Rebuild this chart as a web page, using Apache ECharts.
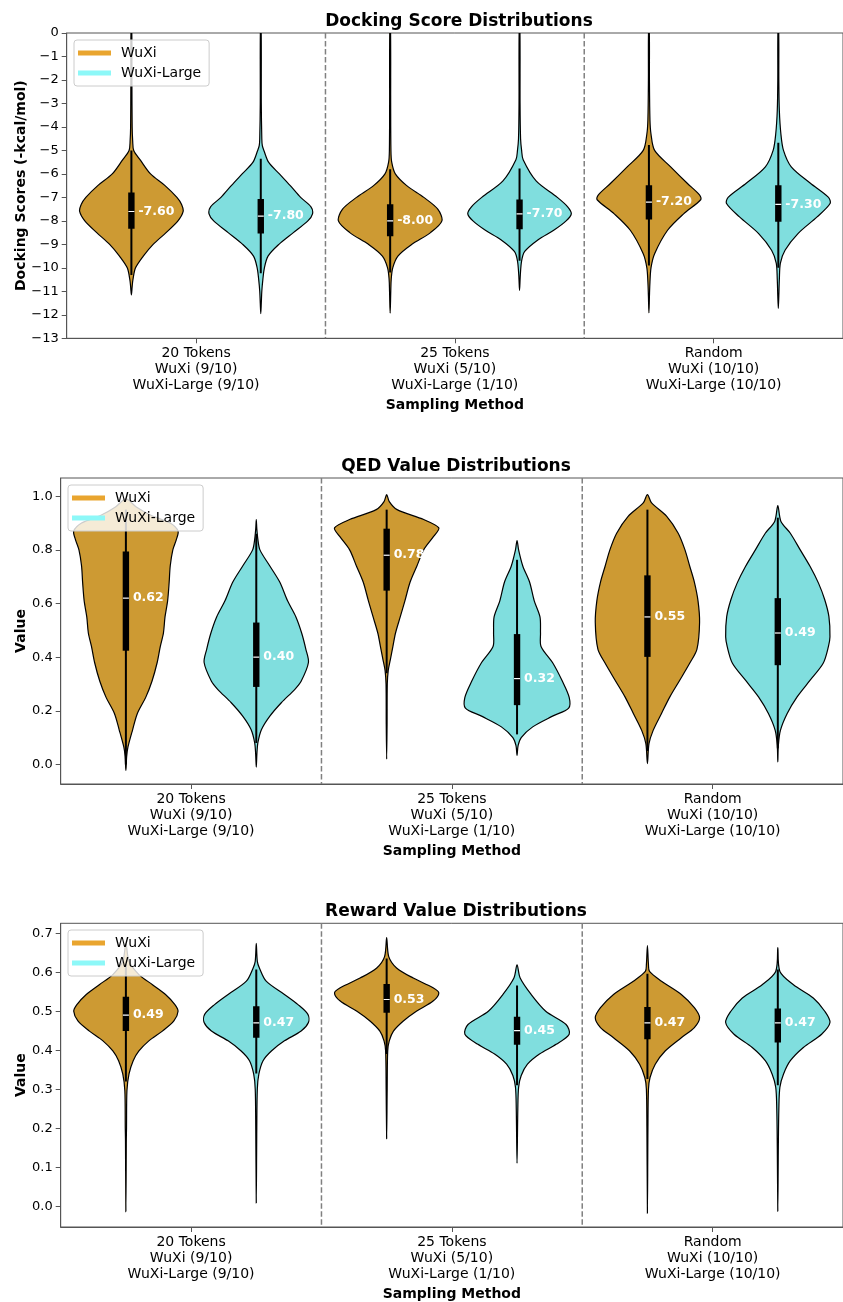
<!DOCTYPE html>
<html><head><meta charset="utf-8">
<script src="https://cdn.jsdelivr.net/npm/echarts@6/dist/echarts.min.js"></script>
<style>html,body{margin:0;padding:0;background:#fff}#c{width:843px;height:1302px}</style>
</head><body><div id="c"></div>
<script>
// ---------------- DATA ----------------
const categories = [
  '20 Tokens\nWuXi (9/10)\nWuXi-Large (9/10)',
  '25 Tokens\nWuXi (5/10)\nWuXi-Large (1/10)',
  'Random\nWuXi (10/10)\nWuXi-Large (10/10)'
];
const models = ['WuXi', 'WuXi-Large'];
const panelTitles = ['Docking Score Distributions', 'QED Value Distributions', 'Reward Value Distributions'];
const yAxisNames = ['Docking Scores (-kcal/mol)', 'Value', 'Value'];
const dockTicks = [-13,-12,-11,-10,-9,-8,-7,-6,-5,-4,-3,-2,-1,0];
const qedTicks = [0, 0.2, 0.4, 0.6, 0.8, 1.0];
const rewardTicks = [0, 0.1, 0.2, 0.3, 0.4, 0.5, 0.6, 0.7];

// violin density profiles: [value, relative half-width]
const dockWuXi20 = [[0,0.008],[-2,0.01],[-4,0.015],[-4.6,0.025],[-5.0,0.045],[-5.4,0.17],[-6.0,0.37],[-6.5,0.65],[-7.0,0.88],[-7.3,0.97],[-7.6,1.0],[-8.0,0.9],[-8.5,0.67],[-9.0,0.42],[-9.5,0.23],[-10.0,0.08],[-10.5,0.03],[-10.8,0.015],[-11.15,0]];
const dockWuXi25 = [[0,0.008],[-3,0.01],[-5,0.015],[-5.5,0.03],[-6.0,0.1],[-6.5,0.32],[-7.0,0.65],[-7.5,0.92],[-8.0,1.0],[-8.5,0.78],[-9.0,0.42],[-9.5,0.15],[-10.0,0.05],[-10.5,0.02],[-11.0,0.012],[-11.93,0]];
const dockWuXiRand = [[0,0.008],[-2,0.01],[-3.7,0.02],[-4.3,0.04],[-5.0,0.11],[-5.7,0.42],[-6.4,0.74],[-6.9,0.98],[-7.1,1.0],[-7.7,0.67],[-8.4,0.36],[-9.4,0.11],[-10.0,0.04],[-10.6,0.02],[-11.2,0.01],[-11.92,0]];
const dockLarge20 = [[0,0.008],[-3,0.01],[-4.5,0.02],[-4.8,0.03],[-5.0,0.06],[-5.5,0.15],[-6.0,0.36],[-6.5,0.57],[-7.0,0.77],[-7.4,0.97],[-7.7,1.0],[-8.0,0.91],[-8.5,0.63],[-9.0,0.35],[-9.5,0.14],[-10.0,0.07],[-10.5,0.04],[-11.0,0.02],[-11.5,0.01],[-11.95,0]];
const dockLarge25 = [[0,0.008],[-3,0.01],[-4.5,0.02],[-5.0,0.04],[-5.4,0.07],[-6.3,0.32],[-7.0,0.73],[-7.4,0.93],[-7.7,1.0],[-8.0,0.9],[-8.4,0.66],[-8.8,0.36],[-9.3,0.1],[-9.7,0.04],[-10.3,0.015],[-10.96,0]];
const dockLargeRand = [[0,0.008],[-2,0.01],[-3.3,0.02],[-4.3,0.05],[-5.0,0.1],[-5.7,0.25],[-6.4,0.62],[-7.0,0.97],[-7.26,1.0],[-7.83,0.75],[-8.54,0.38],[-9.25,0.13],[-9.8,0.04],[-10.5,0.02],[-11.2,0.01],[-11.73,0]];

const qedWuXi20 = [[0.99,0],[0.96,0.2],[0.93,0.47],[0.90,0.85],[0.87,1.0],[0.84,0.97],[0.80,0.9],[0.74,0.85],[0.68,0.83],[0.61,0.8],[0.55,0.75],[0.49,0.72],[0.44,0.66],[0.38,0.6],[0.31,0.5],[0.25,0.38],[0.19,0.22],[0.13,0.13],[0.065,0.04],[0.03,0.015],[-0.022,0]];
const qedWuXi25 = [[1.006,0],[0.98,0.05],[0.95,0.2],[0.913,0.71],[0.882,1.0],[0.85,0.9],[0.80,0.71],[0.74,0.58],[0.68,0.45],[0.61,0.35],[0.55,0.26],[0.49,0.17],[0.44,0.12],[0.39,0.07],[0.35,0.03],[0.30,0.012],[0.15,0.008],[0.02,0]];
const qedWuXiRand = [[1.006,0],[0.975,0.08],[0.925,0.37],[0.862,0.59],[0.80,0.72],[0.74,0.81],[0.68,0.9],[0.61,0.97],[0.53,1.0],[0.43,0.95],[0.377,0.81],[0.314,0.62],[0.252,0.43],[0.19,0.27],[0.127,0.11],[0.077,0.03],[0.003,0]];
const qedLarge20 = [[0.913,0],[0.88,0.01],[0.84,0.03],[0.80,0.07],[0.74,0.26],[0.68,0.45],[0.61,0.6],[0.55,0.76],[0.49,0.87],[0.43,0.95],[0.38,1.0],[0.31,0.86],[0.28,0.74],[0.23,0.48],[0.18,0.26],[0.13,0.1],[0.08,0.03],[0.04,0.012],[-0.01,0]];
const qedLarge25 = [[0.835,0],[0.80,0.03],[0.74,0.11],[0.68,0.24],[0.61,0.33],[0.55,0.44],[0.49,0.45],[0.44,0.46],[0.38,0.68],[0.31,0.87],[0.25,1.0],[0.21,0.99],[0.18,0.68],[0.14,0.3],[0.10,0.08],[0.07,0.02],[0.034,0]];
const qedLargeRand = [[0.965,0],[0.906,0.06],[0.862,0.24],[0.80,0.43],[0.738,0.62],[0.676,0.78],[0.614,0.9],[0.551,0.98],[0.476,1.0],[0.439,0.97],[0.377,0.87],[0.314,0.62],[0.252,0.37],[0.19,0.18],[0.127,0.05],[0.07,0.01],[0.009,0]];

const rewWuXi20 = [[0.674,0],[0.628,0.06],[0.594,0.25],[0.568,0.51],[0.543,0.76],[0.517,0.94],[0.50,1.0],[0.475,0.92],[0.449,0.7],[0.424,0.44],[0.398,0.25],[0.373,0.14],[0.339,0.06],[0.296,0.02],[0.2,0.012],[0.17,0.008],[-0.014,0]];
const rewWuXi25 = [[0.689,0],[0.64,0.04],[0.611,0.19],[0.585,0.51],[0.56,0.89],[0.547,1.0],[0.526,0.89],[0.50,0.57],[0.475,0.32],[0.449,0.13],[0.424,0.05],[0.398,0.02],[0.3,0.01],[0.173,0]];
const rewWuXiRand = [[0.668,0],[0.62,0.02],[0.602,0.04],[0.577,0.27],[0.543,0.65],[0.509,0.9],[0.483,1.0],[0.458,0.9],[0.432,0.65],[0.398,0.34],[0.364,0.15],[0.33,0.05],[0.3,0.02],[0.2,0.01],[-0.018,0]];
const rewLarge20 = [[0.674,0],[0.628,0.02],[0.611,0.06],[0.577,0.19],[0.543,0.54],[0.517,0.8],[0.492,0.99],[0.471,1.0],[0.449,0.86],[0.424,0.54],[0.398,0.29],[0.373,0.13],[0.339,0.05],[0.3,0.02],[0.2,0.01],[0.008,0]];
const rewLarge25 = [[0.619,0],[0.585,0.06],[0.543,0.27],[0.50,0.55],[0.466,0.94],[0.441,1.0],[0.415,0.75],[0.39,0.43],[0.364,0.2],[0.335,0.08],[0.305,0.03],[0.25,0.015],[0.11,0]];
const rewLargeRand = [[0.663,0],[0.602,0.04],[0.568,0.3],[0.534,0.68],[0.50,0.9],[0.471,1.0],[0.441,0.84],[0.407,0.49],[0.373,0.24],[0.339,0.11],[0.305,0.04],[0.25,0.02],[0.15,0.01],[-0.013,0]];

// inner box stats per category: [lower whisker, Q1, median, Q3, upper whisker]
const dockWuXiBox  = [[-10.3,-8.33,-7.60,-6.79,-5.0],[-10.2,-8.65,-8.00,-7.29,-5.8],[-9.9,-7.94,-7.20,-6.48,-4.77]];
const dockLargeBox = [[-10.23,-8.54,-7.80,-7.07,-5.35],[-9.7,-8.36,-7.70,-7.09,-5.77],[-10.0,-8.04,-7.30,-6.48,-4.67]];
const qedWuXiBox   = [[0.0,0.424,0.62,0.794,0.95],[0.34,0.648,0.78,0.879,0.95],[0.05,0.401,0.55,0.705,0.95]];
const qedLargeBox  = [[0.08,0.289,0.40,0.529,0.86],[0.112,0.221,0.32,0.486,0.763],[0.06,0.37,0.49,0.62,0.92]];
const rewWuXiBox   = [[0.32,0.449,0.49,0.537,0.62],[0.39,0.496,0.53,0.570,0.635],[0.326,0.428,0.47,0.511,0.596]];
const rewLargeBox  = [[0.34,0.432,0.47,0.513,0.607],[0.31,0.414,0.45,0.486,0.566],[0.31,0.42,0.47,0.507,0.607]];

// ---------------- STYLE ----------------
const FONT = 'DejaVu Sans';
const fillColors = {'WuXi': '#CD9A33', 'WuXi-Large': '#80DEDE'};
const legendColors = {'WuXi': '#E9A52F', 'WuXi-Large': '#8DF8F8'};
const offsets = {'WuXi': -0.25, 'WuXi-Large': 0.25};
const axisColor = '#555';

const panels = [
  {grid: {left: 66.7, top: 33, width: 785.3, height: 305.3}, ymin: -13, ymax: 0, ticks: dockTicks,
   fmt: v => v < 0 ? '\u2212' + Math.abs(v) : '0', nameGap: 38, titleX: 459, titleY: 13, legend: [74, 40],
   prof: {'WuXi': [dockWuXi20, dockWuXi25, dockWuXiRand], 'WuXi-Large': [dockLarge20, dockLarge25, dockLargeRand]},
   box: {'WuXi': dockWuXiBox, 'WuXi-Large': dockLargeBox}},
  {grid: {left: 60.7, top: 478, width: 791.3, height: 306}, ymin: -0.073, ymax: 1.068, ticks: qedTicks,
   fmt: v => v.toFixed(1), nameGap: 32, titleX: 456, titleY: 458, legend: [68, 485],
   prof: {'WuXi': [qedWuXi20, qedWuXi25, qedWuXiRand], 'WuXi-Large': [qedLarge20, qedLarge25, qedLargeRand]},
   box: {'WuXi': qedWuXiBox, 'WuXi-Large': qedLargeBox}},
  {grid: {left: 60.7, top: 923.3, width: 791.3, height: 305.7}, ymin: -0.0535, ymax: 0.7255, ticks: rewardTicks,
   fmt: v => v.toFixed(1), nameGap: 32, titleX: 456, titleY: 903, legend: [68, 930],
   prof: {'WuXi': [rewWuXi20, rewWuXi25, rewWuXiRand], 'WuXi-Large': [rewLarge20, rewLarge25, rewLargeRand]},
   box: {'WuXi': rewWuXiBox, 'WuXi-Large': rewLargeBox}}
];

function violinSeries(k, name) {
  const P = panels[k];
  const profiles = P.prof[name], boxes = P.box[name], off = offsets[name], fill = fillColors[name];
  return {
    type: 'custom', name, xAxisIndex: k, yAxisIndex: k, clip: true, silent: true, z: 3,
    itemStyle: {color: legendColors[name]},
    data: [0, 1, 2].map(i => [i, boxes[i][2]]),
    encode: {x: 0, y: 1},
    renderItem: (params, api) => {
      const i = api.value(0);
      const band = api.size([1, 0])[0];
      const cx = api.coord([i, boxes[i][2]])[0] + off * band;
      const hm = 0.2 * band;
      const Y = v => api.coord([i, v])[1];
      const prof = profiles[i];
      const right = prof.map(p => [cx + p[1] * hm, Y(p[0])]);
      const left = [];
      for (let j = prof.length - 1; j >= 0; j--) {
        if ((j === 0 || j === prof.length - 1) && prof[j][1] === 0) continue;
        left.push([cx - prof[j][1] * hm, Y(prof[j][0])]);
      }
      const b = boxes[i];
      return {type: 'group', children: [
        {type: 'polygon', shape: {points: right.concat(left), smooth: 0.3},
         style: {fill: fill, stroke: '#000', lineWidth: 1.2}},
        {type: 'line', shape: {x1: cx, y1: Y(b[0]), x2: cx, y2: Y(b[4])},
         style: {stroke: '#000', lineWidth: 2}},
        {type: 'rect', shape: {x: cx - 3.2, y: Y(b[3]), width: 6.4, height: Y(b[1]) - Y(b[3])},
         style: {fill: '#000'}},
        {type: 'line', shape: {x1: cx - 3, y1: Y(b[2]), x2: cx + 3, y2: Y(b[2])},
         style: {stroke: '#fff', lineWidth: 1.2}},
        {type: 'text', x: cx + 7, y: Y(b[2]),
         style: {text: b[2].toFixed(2), fill: '#fff', font: 'bold 12.5px "' + FONT + '"', verticalAlign: 'middle', align: 'left'}}
      ]};
    }
  };
}

function dividerSeries(k) {
  const P = panels[k];
  return {
    type: 'custom', xAxisIndex: k, yAxisIndex: k, silent: true, z: 1,
    data: [[0, P.ymax], [1, P.ymax]], encode: {x: 0, y: 1},
    renderItem: (params, api) => {
      const i = api.value(0);
      const band = api.size([1, 0])[0];
      const x = api.coord([i, P.ymax])[0] + band / 2;
      const cs = params.coordSys;
      return {type: 'line', shape: {x1: x, y1: cs.y, x2: x, y2: cs.y + cs.height},
              style: {stroke: '#808080', lineWidth: 1.5, lineDash: [5.5, 2.5]}};
    }
  };
}

const option = {
  animation: false,
  backgroundColor: '#fff',
  textStyle: {fontFamily: FONT},
  title: panels.map((P, k) => ({
    text: panelTitles[k], left: P.titleX, top: P.titleY, textAlign: 'center', padding: 0,
    textStyle: {fontSize: 17, fontWeight: 'bold', color: '#000', fontFamily: FONT}
  })),
  legend: panels.map(P => ({
    left: P.legend[0], top: P.legend[1], orient: 'vertical', icon: 'rect',
    itemWidth: 33, itemHeight: 5, itemGap: 6, selectedMode: false,
    data: models.map(m => ({name: m, itemStyle: {color: legendColors[m]}})),
    textStyle: {fontSize: 14, color: '#000', fontFamily: FONT, padding: [0, 0, 0, 5]},
    backgroundColor: 'rgba(255,255,255,0.8)', borderColor: '#cccccc', borderWidth: 1, borderRadius: 3,
    padding: [6, 8, 6, 4]
  })),
  grid: panels.map(P => Object.assign({show: true, borderColor: axisColor, borderWidth: 1, backgroundColor: 'transparent'}, P.grid)),
  xAxis: panels.map((P, k) => ({
    gridIndex: k, type: 'category', data: categories, boundaryGap: true,
    axisLine: {show: true, onZero: false, lineStyle: {color: axisColor}},
    axisTick: {show: true, alignWithLabel: true, length: 5, lineStyle: {color: axisColor}},
    axisLabel: {fontSize: 14, lineHeight: 16, color: '#000', margin: 7, fontFamily: FONT},
    splitLine: {show: false},
    name: 'Sampling Method', nameLocation: 'middle', nameGap: 60, nameMoveOverlap: false,
    nameTextStyle: {fontWeight: 'bold', fontSize: 14, color: '#000', fontFamily: FONT}
  })),
  yAxis: panels.map((P, k) => ({
    gridIndex: k, type: 'value', min: P.ymin, max: P.ymax,
    axisLine: {show: true, onZero: false, lineStyle: {color: axisColor}},
    axisTick: {show: true, length: 5, lineStyle: {color: axisColor}, customValues: P.ticks},
    axisLabel: {fontSize: 13, color: '#000', margin: 8, fontFamily: FONT, formatter: P.fmt, customValues: P.ticks},
    splitLine: {show: false},
    name: yAxisNames[k], nameLocation: 'middle', nameRotate: 90, nameGap: P.nameGap, nameMoveOverlap: false,
    nameTextStyle: {fontWeight: 'bold', fontSize: 14, color: '#000', fontFamily: FONT}
  })),
  series: [].concat(...panels.map((P, k) => [dividerSeries(k), violinSeries(k, 'WuXi'), violinSeries(k, 'WuXi-Large')]))
};

const chart = echarts.init(document.getElementById('c'), null, {renderer: 'canvas'});
chart.setOption(option);
</script>
</body></html>
